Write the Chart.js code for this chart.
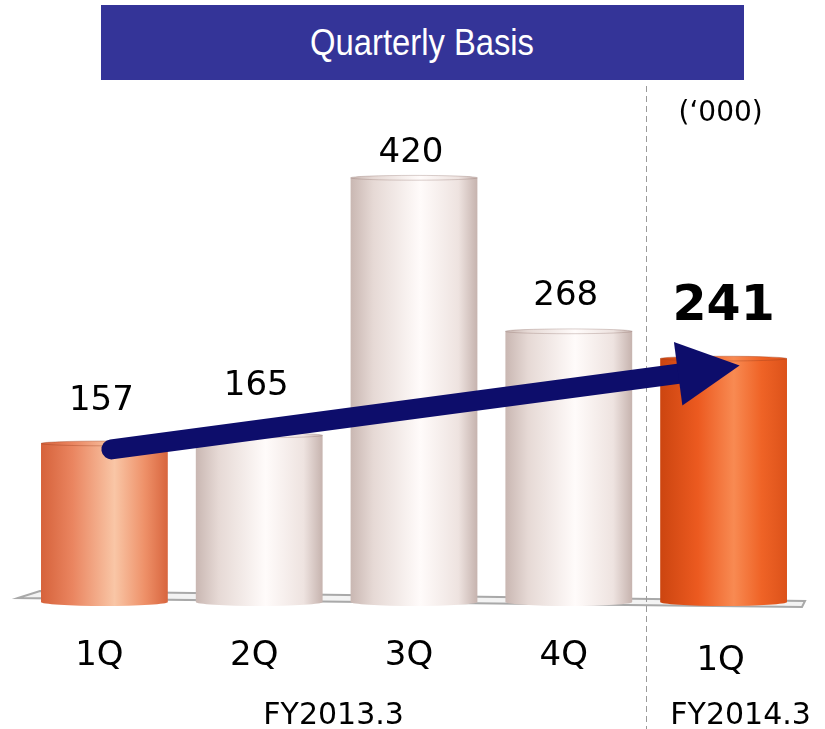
<!DOCTYPE html>
<html>
<head>
<meta charset="utf-8">
<script src="https://cdn.jsdelivr.net/npm/chart.js@4"></script>
<style>
  html, body { margin:0; padding:0; background:#fff; }
  #wrap { position:relative; width:825px; height:729px; overflow:hidden; }
  #banner {
    position:absolute; left:101px; top:5px; width:643px; height:75px;
    background:#343498; color:#fff; text-align:center; line-height:75px;
    font-family:"Liberation Sans", Arial, sans-serif; font-size:36px;
  }
  #banner span { display:inline-block; transform:scaleX(0.91); }
  canvas { position:absolute; left:0; top:0; }
</style>
</head>
<body>
<div id="wrap">
  <canvas id="chart" width="825" height="729"></canvas>
  <div id="banner"><span>Quarterly Basis</span></div>
</div>
<script>
// Data
const quarters = ["1Q", "2Q", "3Q", "4Q", "1Q"];
const fiscalYears = ["FY2013.3", "FY2013.3", "FY2013.3", "FY2013.3", "FY2014.3"];
const units = [157, 165, 420, 268, 241];
const unitNote = "(\u2018000)";

// Look of each cylinder
const barLook = ["orange", "pale", "pale", "pale", "hot"];
const labelGap = [42, 49, 25, 35, 51];
const gradStops = {
  orange: [[0,"#d6623b"],[0.25,"#ea8560"],[0.58,"#f9c6a6"],[0.82,"#ee9068"],[1,"#d8653e"]],
  pale:   [[0,"#c9b7b2"],[0.18,"#e6d9d5"],[0.55,"#fffbfa"],[0.85,"#eee3e0"],[1,"#c6b3ae"]],
  hot:    [[0,"#cc4510"],[0.3,"#ec5a20"],[0.58,"#f88a52"],[0.8,"#ef6326"],[1,"#dc521a"]]
};
const FONT = '"DejaVu Sans", Verdana, sans-serif';

function cylinder(ctx, el, look) {
  const x0 = el.x - el.width/2, x1 = el.x + el.width/2;
  const top = el.y, base = el.base, ry = 4;
  const g = ctx.createLinearGradient(x0, 0, x1, 0);
  gradStops[look].forEach(s => g.addColorStop(s[0], s[1]));
  ctx.save();
  ctx.beginPath();
  ctx.moveTo(x0, top);
  ctx.lineTo(x0, base);
  ctx.ellipse(el.x, base, el.width/2, ry, 0, Math.PI, 0, true);
  ctx.lineTo(x1, top);
  ctx.ellipse(el.x, top, el.width/2, ry*0.6, 0, 0, Math.PI, true);
  ctx.closePath();
  ctx.fillStyle = g;
  ctx.fill();
  // faint rim on top
  ctx.beginPath();
  ctx.ellipse(el.x, top, el.width/2, ry*0.6, 0, 0, Math.PI*2);
  ctx.strokeStyle = look === "pale" ? "rgba(150,120,115,0.35)" : "rgba(150,60,30,0.35)";
  ctx.lineWidth = 1;
  ctx.stroke();
  ctx.restore();
}

const floorPlugin = {
  id: "floor",
  beforeDatasetsDraw(chart) {
    const { ctx, chartArea: a } = chart;
    ctx.save();
    ctx.beginPath();
    ctx.moveTo(a.left - 9, a.bottom - 4);
    ctx.lineTo(a.left + 13, a.bottom - 11);
    ctx.lineTo(a.right + 4, a.bottom - 1);
    ctx.lineTo(a.right + 1, a.bottom + 5);
    ctx.closePath();
    ctx.fillStyle = "#f3f3f3";
    ctx.fill();
    ctx.strokeStyle = "#a9a9a9";
    ctx.lineWidth = 2;
    ctx.stroke();
    // dashed separator between fiscal years
    const els = chart.getDatasetMeta(0).data;
    const sx = Math.round((els[3].x + els[4].x) / 2) + 0.5;
    ctx.beginPath();
    ctx.setLineDash([6, 4]);
    ctx.moveTo(sx, 86);
    ctx.lineTo(sx, chart.height);
    ctx.strokeStyle = "#9a9a9a";
    ctx.lineWidth = 1;
    ctx.stroke();
    ctx.restore();
  }
};

const cylPlugin = {
  id: "cyl",
  afterDatasetsDraw(chart) {
    const { ctx, chartArea: a } = chart;
    const els = chart.getDatasetMeta(0).data;
    els.forEach((el, i) => cylinder(ctx, el, barLook[i]));

    // trend arrow from first to last bar
    const s = els[0], e = els[els.length - 1];
    const x1 = s.x + 7, y1 = s.y + 6;
    const tx = e.x + 16, ty = e.y + 7;
    const ang = Math.atan2(ty - y1, tx - x1);
    const headLen = 62, headHalf = 32;
    const bx = tx - headLen * Math.cos(ang), by = ty - headLen * Math.sin(ang);
    ctx.save();
    ctx.strokeStyle = "#0d0d6b";
    ctx.fillStyle = "#0d0d6b";
    ctx.lineWidth = 20;
    ctx.lineCap = "round";
    ctx.beginPath();
    ctx.moveTo(x1, y1);
    ctx.lineTo(bx + 4 * Math.cos(ang), by + 4 * Math.sin(ang));
    ctx.stroke();
    ctx.beginPath();
    ctx.moveTo(tx, ty);
    ctx.lineTo(bx + headHalf * Math.sin(ang), by - headHalf * Math.cos(ang));
    ctx.lineTo(bx - headHalf * Math.sin(ang), by + headHalf * Math.cos(ang));
    ctx.closePath();
    ctx.fill();
    ctx.restore();

    // value labels
    ctx.save();
    ctx.textAlign = "center";
    ctx.textBaseline = "middle";
    ctx.fillStyle = "#000";
    els.forEach((el, i) => {
      const last = i === els.length - 1;
      ctx.font = (last ? "bold 49px " : "34px ") + FONT;
      ctx.fillText(String(units[i]), el.x - (last ? 0 : 3), el.y - labelGap[i]);
    });
    // quarter labels
    ctx.font = "34px " + FONT;
    els.forEach((el, i) => {
      const drop = i === els.length - 1 ? 59 : 54;
      ctx.fillText(quarters[i], el.x - (i === els.length - 1 ? 3 : 5), a.bottom + drop);
    });
    // fiscal year group labels
    ctx.font = "30px " + FONT;
    const groups = [];
    fiscalYears.forEach((fy, i) => {
      const g = groups.find(o => o.name === fy);
      if (g) g.idx.push(i); else groups.push({ name: fy, idx: [i] });
    });
    groups.forEach(g => {
      const xs = g.idx.map(i => els[i].x);
      let cx = (Math.min(...xs) + Math.max(...xs)) / 2;
      if (g.idx.length === 1) cx += 17;
      else cx -= 3;
      ctx.fillText(g.name, cx, a.bottom + 114);
    });
    // unit note
    ctx.font = "28px " + FONT;
    ctx.fillText(unitNote, e.x - 3, 114);
    ctx.restore();
  }
};

new Chart(document.getElementById("chart"), {
  type: "bar",
  data: {
    labels: quarters,
    datasets: [{
      data: units,
      backgroundColor: "rgba(0,0,0,0)",
      borderWidth: 0,
      barPercentage: 0.9,
      categoryPercentage: 0.91
    }]
  },
  options: {
    responsive: false,
    devicePixelRatio: 1,
    animation: false,
    layout: { padding: { left: 27, right: 24, top: 97, bottom: 127 } },
    plugins: { legend: { display: false }, tooltip: { enabled: false }, title: { display: false } },
    scales: {
      x: { display: false },
      y: { display: false, min: 0, max: 500 }
    }
  },
  plugins: [floorPlugin, cylPlugin]
});
</script>
</body>
</html>
